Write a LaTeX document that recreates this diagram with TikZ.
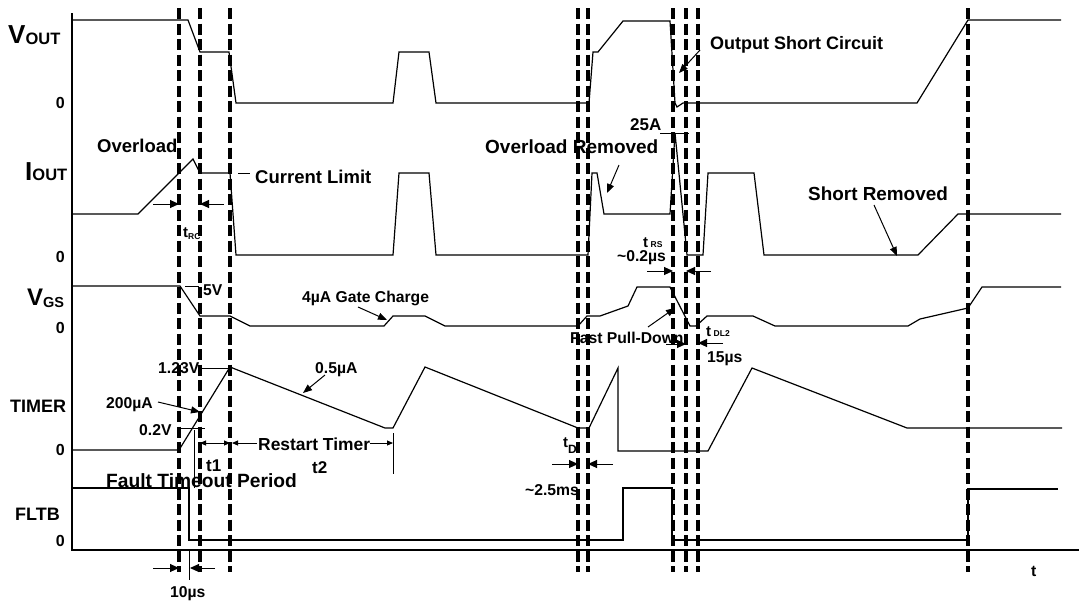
\documentclass[tikz,border=0pt]{standalone}
\usepackage{fontspec}
\setmainfont{Liberation Sans}
\usetikzlibrary{arrows.meta}
\begin{document}
\begin{tikzpicture}[x=1pt,y=-1pt,
  sig/.style={line width=1.2pt, line join=miter},
  guide/.style={line width=3.8pt, dash pattern=on 11pt off 4.5pt},
  lbl/.style={inner sep=0pt, anchor=base west, font=\bfseries\fontsize{18.5}{18}\selectfont},
  sml/.style={inner sep=0pt, anchor=base west, font=\bfseries\fontsize{15.7}{16}\selectfont},
  nm/.style={inner sep=0pt, anchor=base west, font=\bfseries\fontsize{18}{18}\selectfont},
  zero/.style={inner sep=0pt, anchor=base east, font=\bfseries\fontsize{16}{16}\selectfont},
  plain/.style={inner sep=0pt, anchor=base west, font=\bfseries},
  dimarr/.style={line width=1pt, -{Triangle[length=9pt,width=8pt]}},
  ptarr/.style={line width=1pt, -{Triangle[length=9pt,width=7pt]}},
  tarr/.style={line width=0.9pt, -{Triangle[length=6pt,width=5pt]}},
  leader/.style={line width=1pt}]
\useasboundingbox (0,0) rectangle (1079,600);

% axes
\coordinate (top) at (72,13);
\coordinate (org) at (72,550);
\coordinate (tend) at (1079,550);
\draw[sig] (top) -- (org) -- (tend);

% VOUT
\draw[sig] (72,20) -- (188,20) -- (200,52) -- (229,52) -- (236,103) -- (393,103) -- (399,52) -- (429,52) -- (436,103) -- (589,103) -- (593,52) -- (598,52) -- (623,21) -- (670,21) -- (675,103) -- (677,107) -- (683,103) -- (917,103) -- (968,20) -- (1061,20);

% IOUT
\draw[sig] (72,214) -- (138,214) -- (193,159) -- (200,173) -- (230,173) -- (236,255) -- (393,255) -- (399,173) -- (429,173) -- (436,255) -- (588,255) -- (592,173) -- (597,173) -- (604,214) -- (670,214) -- (675,133) -- (687,255) -- (703,255) -- (708,173) -- (754,173) -- (764,255) -- (918,255) -- (958,214) -- (1061,214);

% VGS
\draw[sig] (72,286) -- (180,286) -- (200,316) -- (230,316) -- (250,326) -- (384,326) -- (393,316) -- (425,316) -- (445,326) -- (578,326) -- (587,316) -- (600,316) -- (628,306) -- (637,287) -- (670,287) -- (690,326) -- (696,326) -- (707,316) -- (753,316) -- (775,326) -- (908,326) -- (920,319) -- (968,308) -- (982,287) -- (1061,287);

% TIMER
\draw[sig] (72,450) -- (179,450) -- (230,367) -- (385,428) -- (393,428) -- (425,367) -- (578,428) -- (589,428) -- (618,368) -- (618,451) -- (708,451) -- (752,368) -- (907,428) -- (1062,428);

% FLTB
\draw[sig] (72,488) -- (189,488) -- (189,540) -- (623,540) -- (623,488) -- (672,488) -- (672,540) -- (968,540) -- (968,489) -- (1058,489);

% leaders and ticks
\draw[leader] (185,286) -- (199,286);
\draw[leader] (202,368) -- (230,368);
\draw[leader] (181,428) -- (205,428);
\draw[leader] (660,133) -- (689,133);
\draw[leader] (238,173) -- (250,173);
\draw[leader] (194,430) -- (194,488);
\draw[leader] (393,433) -- (393,474);
\draw[leader] (189,550) -- (189,580);

% signal names
\node[plain] (vout) at (8,43) {\fontsize{26}{26}\selectfont V\raisebox{-1pt}{\fontsize{16.5}{17}\selectfont OUT}};
\node[plain] (iout) at (25,180) {\fontsize{26}{26}\selectfont I\fontsize{16.5}{17}\selectfont OUT};
\node[plain] (vgs) at (27,305) {\fontsize{24}{24}\selectfont V\raisebox{-2pt}{\fontsize{14.5}{15}\selectfont GS}};
\node[nm] (timer) at (10,412) {TIMER};
\node[nm] (fltb) at (15,520) {FLTB};
\node[zero] (z1) at (65,108) {0};
\node[zero] (z2) at (65,262) {0};
\node[zero] (z3) at (65,333) {0};
\node[zero] (z4) at (65,455) {0};
\node[zero] (z5) at (65,546) {0};
\node[sml] (tax) at (1031,576) {t};

% annotations
\node[lbl] (ovl) at (97,152) {Overload};
\node[lbl] (cl) at (255,183) {Current Limit};
\node[lbl, font=\bfseries\fontsize{19}{19}\selectfont] (ovr) at (485,153) {Overload Removed};
\node[lbl, font=\bfseries\fontsize{18}{18}\selectfont] (osc) at (710,49) {Output Short Circuit};
\node[lbl, font=\bfseries\fontsize{18.9}{19}\selectfont] (shr) at (808,200) {Short Removed};
\node[plain, font=\bfseries\fontsize{19.2}{19}\selectfont] (ftp) at (106,487) {Fault Timeout Period};
\node[plain, font=\bfseries\fontsize{17.4}{17}\selectfont] (rst) at (258,450) {Restart Timer};
\node[plain, font=\bfseries\fontsize{17}{17}\selectfont] (t1) at (206,471) {t1};
\node[plain, font=\bfseries\fontsize{17}{17}\selectfont] (t2) at (312,473) {t2};
\node[plain, font=\bfseries\fontsize{17}{17}\selectfont] (a25) at (630,130) {25A};
\node[sml] (v5) at (203,295) {5V};
\node[sml] (gate) at (302,302) {4µA Gate Charge};
\node[sml] (fpd) at (570,343) {Fast Pull-Down};
\node[sml] (v123) at (158,373) {1.23V};
\node[sml] (i05) at (315,373) {0.5µA};
\node[sml] (i200) at (106,408) {200µA};
\node[sml] (v02) at (139,435) {0.2V};
\node[sml] (us02) at (617,261) {\textasciitilde0.2µs};
\node[sml] (us15) at (707,362) {15µs};
\node[sml] (us10) at (170,597) {10µs};
\node[sml] (ms25) at (525,495) {\textasciitilde2.5ms};
\node[plain] (trc) at (183,237) {\fontsize{15}{15}\selectfont t\raisebox{-2pt}{\fontsize{8.5}{9}\selectfont RC}};
\node[plain] (trs) at (643,247) {\fontsize{15}{15}\selectfont t\,\fontsize{8.5}{9}\selectfont RS};
\node[plain] (tdl) at (706,336) {\fontsize{15}{15}\selectfont t\,\fontsize{8.5}{9}\selectfont DL2};
\node[plain] (td) at (563,447) {\fontsize{15}{15}\selectfont t\raisebox{-6pt}{\fontsize{12}{12}\selectfont D}};

% pointer arrows
\draw[ptarr] (619,165) -- (607,193);
\draw[ptarr] (700,50) -- (679,73);
\draw[ptarr] (874,205) -- (897,256);
\draw[ptarr] (358,307) -- (387,320);
\draw[ptarr] (648,327) -- (675,308);
\draw[ptarr] (325,375) -- (303,393);
\draw[ptarr] (158,402) -- (200,412);

% dimension arrows
\draw[dimarr] (153,204) -- (179,204);
\draw[dimarr] (224,204) -- (200,204);
\draw[dimarr] (647,271) -- (673,271);
\draw[dimarr] (711,271) -- (686,271);
\draw[dimarr] (666,344) -- (686,344);
\draw[dimarr] (723,343) -- (698,343);
\draw[dimarr] (552,464) -- (578,464);
\draw[dimarr] (613,464) -- (588,464);
\draw[dimarr] (153,568) -- (179,568);
\draw[dimarr] (215,568) -- (190,568);
\draw[line width=0.9pt, {Triangle[length=6pt,width=5pt]}-{Triangle[length=6pt,width=5pt]}] (200,443) -- (230,443);
\draw[tarr] (257,443) -- (232,443);
\draw[tarr] (370,443) -- (393,443);

% dashed guide lines
\foreach \x in {179,200,230,578,588,673,686,698,968}
  \draw[guide] (\x,8) -- (\x,572);
\end{tikzpicture}
\end{document}
